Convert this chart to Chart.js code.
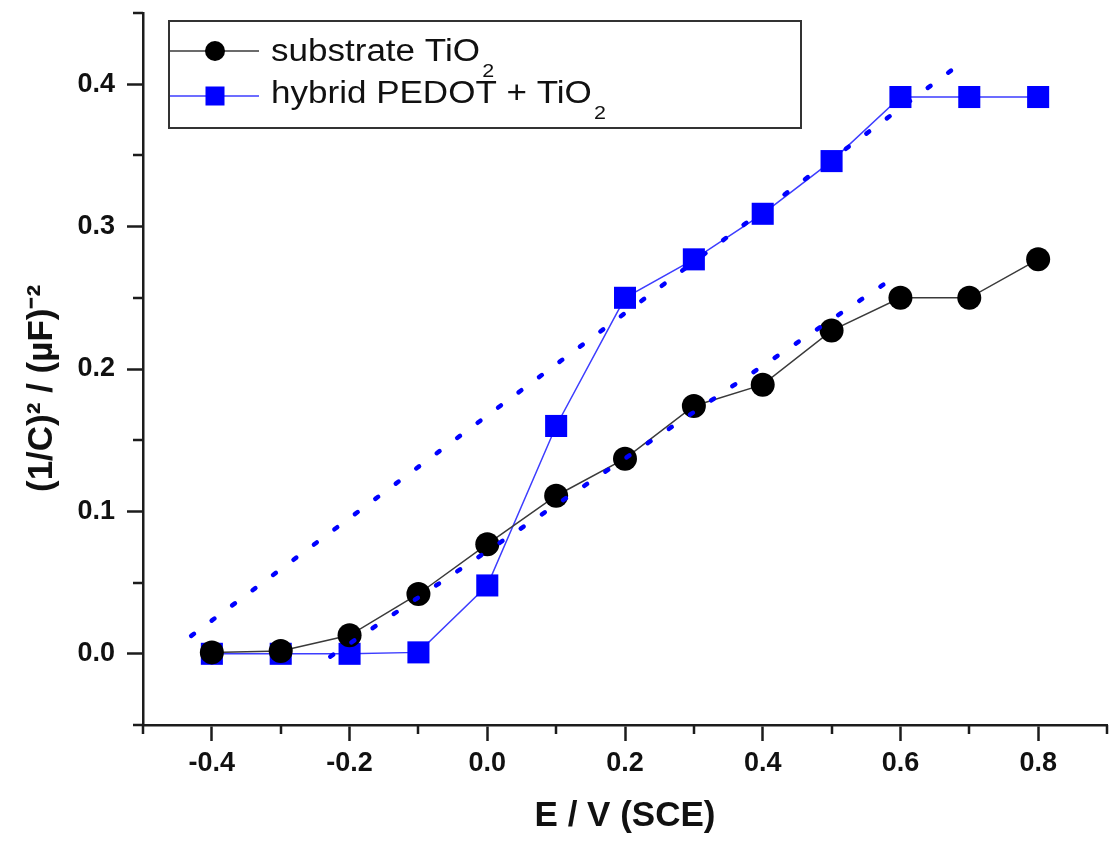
<!DOCTYPE html>
<html>
<head>
<meta charset="utf-8">
<script src="https://cdn.jsdelivr.net/npm/chart.js@4/dist/chart.umd.min.js"></script>
<style>
  html, body { margin: 0; padding: 0; background: #ffffff; }
  #wrap { width: 1113px; height: 843px; }
</style>
</head>
<body>
<div id="wrap"><canvas id="mott" width="1113" height="843"></canvas></div>
<script>
// Applied potential, V vs SCE
const potential = [-0.4, -0.3, -0.2, -0.1, 0.0, 0.1, 0.2, 0.3, 0.4, 0.5, 0.6, 0.7, 0.8];

// (1/C)^2 in (uF)^-2
const substrateTiO2 = [0.001, 0.002, 0.013, 0.042, 0.077, 0.111, 0.137, 0.174, 0.189, 0.227, 0.250, 0.250, 0.277];
const hybridPedotTiO2 = [0.000, 0.000, 0.000, 0.001, 0.048, 0.160, 0.250, 0.277, 0.309, 0.346, 0.391, 0.391, 0.391];

// Linear (Mott-Schottky) fits, end points
const fitHybridX = [-0.43, 0.69];
const fitHybridY = [0.0126, 0.4155];
const fitSubstrateX = [-0.228, 0.596];
const fitSubstrateY = [-0.002, 0.266];

// Axis ticks
const xMajorTicks = [-0.4, -0.2, 0.0, 0.2, 0.4, 0.6, 0.8];
const xMinorTicks = [-0.5, -0.3, -0.1, 0.1, 0.3, 0.5, 0.7, 0.9];
const yMajorTicks = [0.0, 0.1, 0.2, 0.3, 0.4];
const yMinorTicks = [-0.05, 0.05, 0.15, 0.25, 0.35, 0.45];

const FONT = "'Liberation Sans', Arial, Helvetica, sans-serif";
const AXIS_COLOR = '#1c1c1c';
const BLUE = '#0000ff';

const pairs = (xs, ys) => xs.map((x, i) => ({ x: x, y: ys[i] }));

// Shorter minor tick marks on both axes
const minorTicks = {
  id: 'minorTicks',
  afterDraw(chart) {
    const ctx = chart.ctx;
    const xs = chart.scales.x, ys = chart.scales.y;
    ctx.save();
    ctx.strokeStyle = AXIS_COLOR;
    ctx.lineWidth = 2.5;
    ctx.beginPath();
    xMinorTicks.forEach(v => {
      const px = Math.round(xs.getPixelForValue(v));
      ctx.moveTo(px, xs.top);
      ctx.lineTo(px, xs.top + 9);
    });
    yMinorTicks.forEach(v => {
      const py = Math.round(ys.getPixelForValue(v));
      ctx.moveTo(ys.right, py);
      ctx.lineTo(ys.right - 10, py);
    });
    ctx.stroke();
    ctx.restore();
  }
};

// Boxed legend inside the plot, with subscripted labels
const boxedLegend = {
  id: 'boxedLegend',
  afterDatasetsDraw(chart) {
    const ctx = chart.ctx;
    const box = { x: 169, y: 21, w: 632, h: 107 };
    const rowLine = [51, 96];
    const rowBase = [61, 103];
    const stretch = 1.13;
    ctx.save();
    ctx.fillStyle = '#ffffff';
    ctx.fillRect(box.x, box.y, box.w, box.h);
    ctx.strokeStyle = '#333333';
    ctx.lineWidth = 2;
    ctx.strokeRect(box.x, box.y, box.w, box.h);

    const entries = chart.data.datasets.filter(d => d.inLegend);
    entries.forEach((ds, i) => {
      const ly = rowLine[i];
      ctx.strokeStyle = ds.borderColor;
      ctx.lineWidth = ds.borderWidth;
      ctx.beginPath();
      ctx.moveTo(box.x + 1, ly);
      ctx.lineTo(259, ly);
      ctx.stroke();

      ctx.fillStyle = ds.pointBackgroundColor;
      if (ds.pointStyle === 'rect') {
        ctx.fillRect(215 - 9.5, ly - 9.5, 19, 19);
      } else {
        ctx.beginPath();
        ctx.arc(215, ly, 10, 0, Math.PI * 2);
        ctx.fill();
      }

      // label text, slightly widened, with '₂' set as a lowered small digit
      ctx.save();
      ctx.translate(271, rowBase[i]);
      ctx.scale(stretch, 1);
      let tx = 0;
      ctx.fillStyle = '#111111';
      ctx.textBaseline = 'alphabetic';
      for (const part of ds.label.split(/(₂)/)) {
        if (!part) continue;
        if (part === '₂') {
          ctx.font = '19px ' + FONT;
          ctx.fillText('2', tx + 2, 16);
          tx += ctx.measureText('2').width + 2;
        } else {
          ctx.font = '31px ' + FONT;
          ctx.fillText(part, tx, 0);
          tx += ctx.measureText(part).width;
        }
      }
      ctx.restore();
    });
    ctx.restore();
  }
};

const ctx = document.getElementById('mott').getContext('2d');

new Chart(ctx, {
  type: 'line',
  data: {
    datasets: [
      {
        label: 'fit hybrid',
        data: pairs(fitHybridX, fitHybridY),
        borderColor: BLUE,
        borderWidth: 4.5,
        borderDash: [3.5, 22],
        borderCapStyle: 'round',
        pointRadius: 0,
        fill: false,
        order: 0
      },
      {
        label: 'fit substrate',
        data: pairs(fitSubstrateX, fitSubstrateY),
        borderColor: BLUE,
        borderWidth: 4.5,
        borderDash: [3.5, 22],
        borderCapStyle: 'round',
        pointRadius: 0,
        fill: false,
        order: 0
      },
      {
        label: 'substrate TiO₂',
        inLegend: true,
        data: pairs(potential, substrateTiO2),
        borderColor: '#3a3a3a',
        borderWidth: 1.5,
        pointStyle: 'circle',
        pointRadius: 12,
        pointBorderWidth: 0,
        pointBackgroundColor: '#000000',
        pointBorderColor: '#000000',
        fill: false,
        order: 1
      },
      {
        label: 'hybrid PEDOT + TiO₂',
        inLegend: true,
        data: pairs(potential, hybridPedotTiO2),
        borderColor: '#3d3dff',
        borderWidth: 1.5,
        pointStyle: 'rect',
        pointRadius: 15.6,
        pointBorderWidth: 0,
        pointBackgroundColor: BLUE,
        pointBorderColor: BLUE,
        fill: false,
        order: 2
      }
    ]
  },
  options: {
    responsive: false,
    animation: false,
    devicePixelRatio: 1,
    layout: { autoPadding: false, padding: { top: 13, right: 6, left: 0, bottom: 0 } },
    plugins: {
      legend: { display: false },
      tooltip: { enabled: false }
    },
    elements: { line: { tension: 0 } },
    scales: {
      x: {
        type: 'linear',
        min: -0.5,
        max: 0.9,
        afterBuildTicks: s => { s.ticks = xMajorTicks.map(v => ({ value: v })); },
        afterFit: s => { s.height = 118; s.paddingLeft = 0; s.paddingRight = 0; },
        ticks: {
          callback: v => Number(v).toFixed(1),
          font: { family: FONT, size: 27, weight: 'bold' },
          color: '#111111',
          padding: 6,
          maxRotation: 0,
          autoSkip: false
        },
        grid: {
          display: true,
          drawOnChartArea: false,
          drawTicks: true,
          tickLength: 16,
          tickColor: AXIS_COLOR,
          tickWidth: 2.5
        },
        border: { display: true, color: AXIS_COLOR, width: 2.5 },
        title: {
          display: true,
          text: 'E / V (SCE)',
          color: '#111111',
          font: { family: FONT, size: 35, weight: 'bold' },
          padding: { top: 0, bottom: 6 }
        }
      },
      y: {
        type: 'linear',
        min: -0.05,
        max: 0.45,
        afterBuildTicks: s => { s.ticks = yMajorTicks.map(v => ({ value: v })); },
        afterFit: s => { s.width = 143; s.paddingTop = 0; s.paddingBottom = 0; },
        ticks: {
          callback: v => Number(v).toFixed(1),
          font: { family: FONT, size: 27, weight: 'bold' },
          color: '#111111',
          padding: 12,
          autoSkip: false
        },
        grid: {
          display: true,
          drawOnChartArea: false,
          drawTicks: true,
          tickLength: 16,
          tickColor: AXIS_COLOR,
          tickWidth: 2.5
        },
        border: { display: true, color: AXIS_COLOR, width: 2.5 },
        title: {
          display: true,
          text: '(1/C)² / (µF)⁻²\u00a0\u00a0\u00a0\u00a0',
          color: '#111111',
          font: { family: FONT, size: 35, weight: 'bold' },
          padding: { top: 21, bottom: 0 }
        }
      }
    }
  },
  plugins: [minorTicks, boxedLegend]
});
</script>
</body>
</html>
